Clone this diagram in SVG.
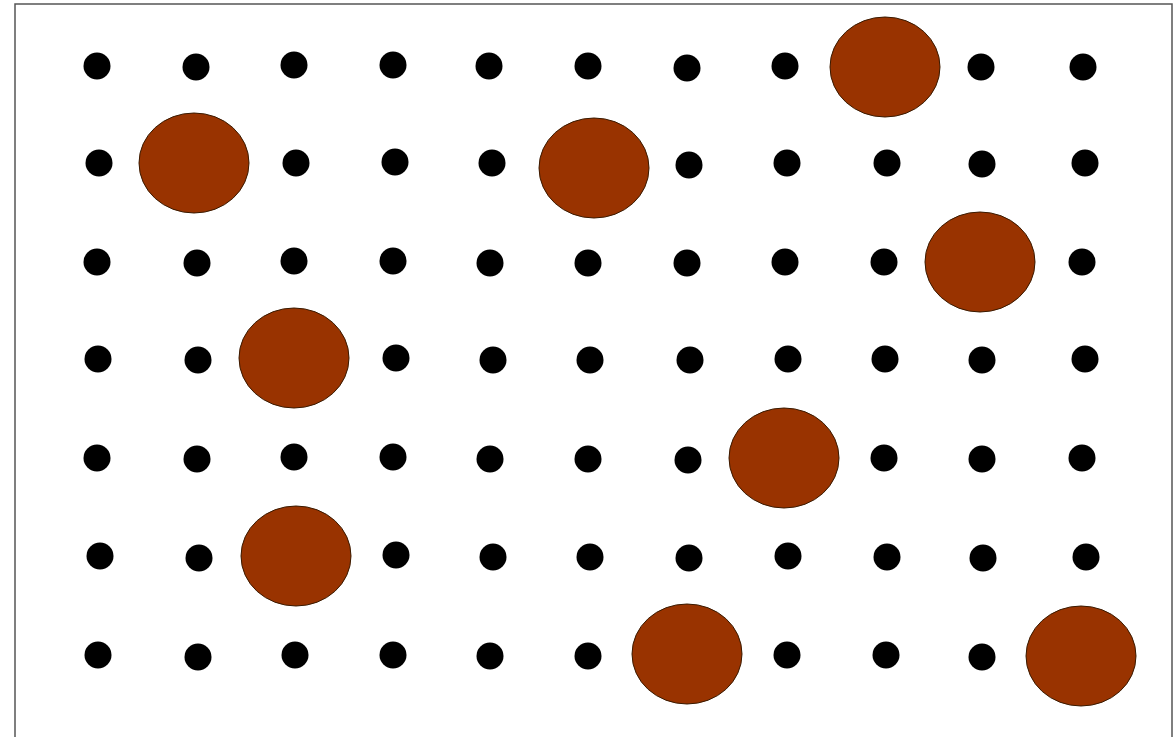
<svg xmlns="http://www.w3.org/2000/svg" width="1175" height="737" viewBox="0 0 1175 737">
<style>
.d{fill:#000}
.b{fill:#993300;stroke:#3a1a00;stroke-width:1}
</style>
<rect x="0" y="0" width="1175" height="737" fill="#fff"/>
<rect x="15" y="4" width="1157" height="740" fill="#fff" stroke="#555" stroke-width="1.5"/>
<g id="dots">
<circle class="d" cx="97" cy="66" r="13.5"/><circle class="d" cx="196" cy="67" r="13.5"/><circle class="d" cx="294" cy="65" r="13.5"/><circle class="d" cx="393" cy="65" r="13.5"/><circle class="d" cx="489" cy="66" r="13.5"/><circle class="d" cx="588" cy="66" r="13.5"/><circle class="d" cx="687" cy="68" r="13.5"/><circle class="d" cx="785" cy="66" r="13.5"/><circle class="d" cx="981" cy="67" r="13.5"/><circle class="d" cx="1083" cy="67" r="13.5"/>
<circle class="d" cx="99" cy="163" r="13.5"/><circle class="d" cx="296" cy="163" r="13.5"/><circle class="d" cx="395" cy="162" r="13.5"/><circle class="d" cx="492" cy="163" r="13.5"/><circle class="d" cx="689" cy="165" r="13.5"/><circle class="d" cx="787" cy="163" r="13.5"/><circle class="d" cx="887" cy="163" r="13.5"/><circle class="d" cx="982" cy="164" r="13.5"/><circle class="d" cx="1085" cy="163" r="13.5"/>
<circle class="d" cx="97" cy="262" r="13.5"/><circle class="d" cx="197" cy="263" r="13.5"/><circle class="d" cx="294" cy="261" r="13.5"/><circle class="d" cx="393" cy="261" r="13.5"/><circle class="d" cx="490" cy="263" r="13.5"/><circle class="d" cx="588" cy="263" r="13.5"/><circle class="d" cx="687" cy="263" r="13.5"/><circle class="d" cx="785" cy="262" r="13.5"/><circle class="d" cx="884" cy="262" r="13.5"/><circle class="d" cx="1082" cy="262" r="13.5"/>
<circle class="d" cx="98" cy="359" r="13.5"/><circle class="d" cx="198" cy="360" r="13.5"/><circle class="d" cx="396" cy="358" r="13.5"/><circle class="d" cx="493" cy="360" r="13.5"/><circle class="d" cx="590" cy="360" r="13.5"/><circle class="d" cx="690" cy="360" r="13.5"/><circle class="d" cx="788" cy="359" r="13.5"/><circle class="d" cx="885" cy="359" r="13.5"/><circle class="d" cx="982" cy="360" r="13.5"/><circle class="d" cx="1085" cy="359" r="13.5"/>
<circle class="d" cx="97" cy="458" r="13.5"/><circle class="d" cx="197" cy="459" r="13.5"/><circle class="d" cx="294" cy="457" r="13.5"/><circle class="d" cx="393" cy="457" r="13.5"/><circle class="d" cx="490" cy="459" r="13.5"/><circle class="d" cx="588" cy="459" r="13.5"/><circle class="d" cx="688" cy="460" r="13.5"/><circle class="d" cx="884" cy="458" r="13.5"/><circle class="d" cx="982" cy="459" r="13.5"/><circle class="d" cx="1082" cy="458" r="13.5"/>
<circle class="d" cx="100" cy="556" r="13.5"/><circle class="d" cx="199" cy="558" r="13.5"/><circle class="d" cx="396" cy="555" r="13.5"/><circle class="d" cx="493" cy="557" r="13.5"/><circle class="d" cx="590" cy="557" r="13.5"/><circle class="d" cx="689" cy="558" r="13.5"/><circle class="d" cx="788" cy="556" r="13.5"/><circle class="d" cx="887" cy="557" r="13.5"/><circle class="d" cx="983" cy="558" r="13.5"/><circle class="d" cx="1086" cy="557" r="13.5"/>
<circle class="d" cx="98" cy="655" r="13.5"/><circle class="d" cx="198" cy="657" r="13.5"/><circle class="d" cx="295" cy="655" r="13.5"/><circle class="d" cx="393" cy="655" r="13.5"/><circle class="d" cx="490" cy="656" r="13.5"/><circle class="d" cx="588" cy="656" r="13.5"/><circle class="d" cx="787" cy="655" r="13.5"/><circle class="d" cx="886" cy="655" r="13.5"/><circle class="d" cx="982" cy="657" r="13.5"/>
</g>
<g id="blobs">
<ellipse class="b" cx="885" cy="67" rx="55" ry="50"/>
<ellipse class="b" cx="194" cy="163" rx="55" ry="50"/>
<ellipse class="b" cx="594" cy="168" rx="55" ry="50"/>
<ellipse class="b" cx="980" cy="262" rx="55" ry="50"/>
<ellipse class="b" cx="294" cy="358" rx="55" ry="50"/>
<ellipse class="b" cx="784" cy="458" rx="55" ry="50"/>
<ellipse class="b" cx="296" cy="556" rx="55" ry="50"/>
<ellipse class="b" cx="687" cy="654" rx="55" ry="50"/>
<ellipse class="b" cx="1081" cy="656" rx="55" ry="50"/>
</g>
</svg>
